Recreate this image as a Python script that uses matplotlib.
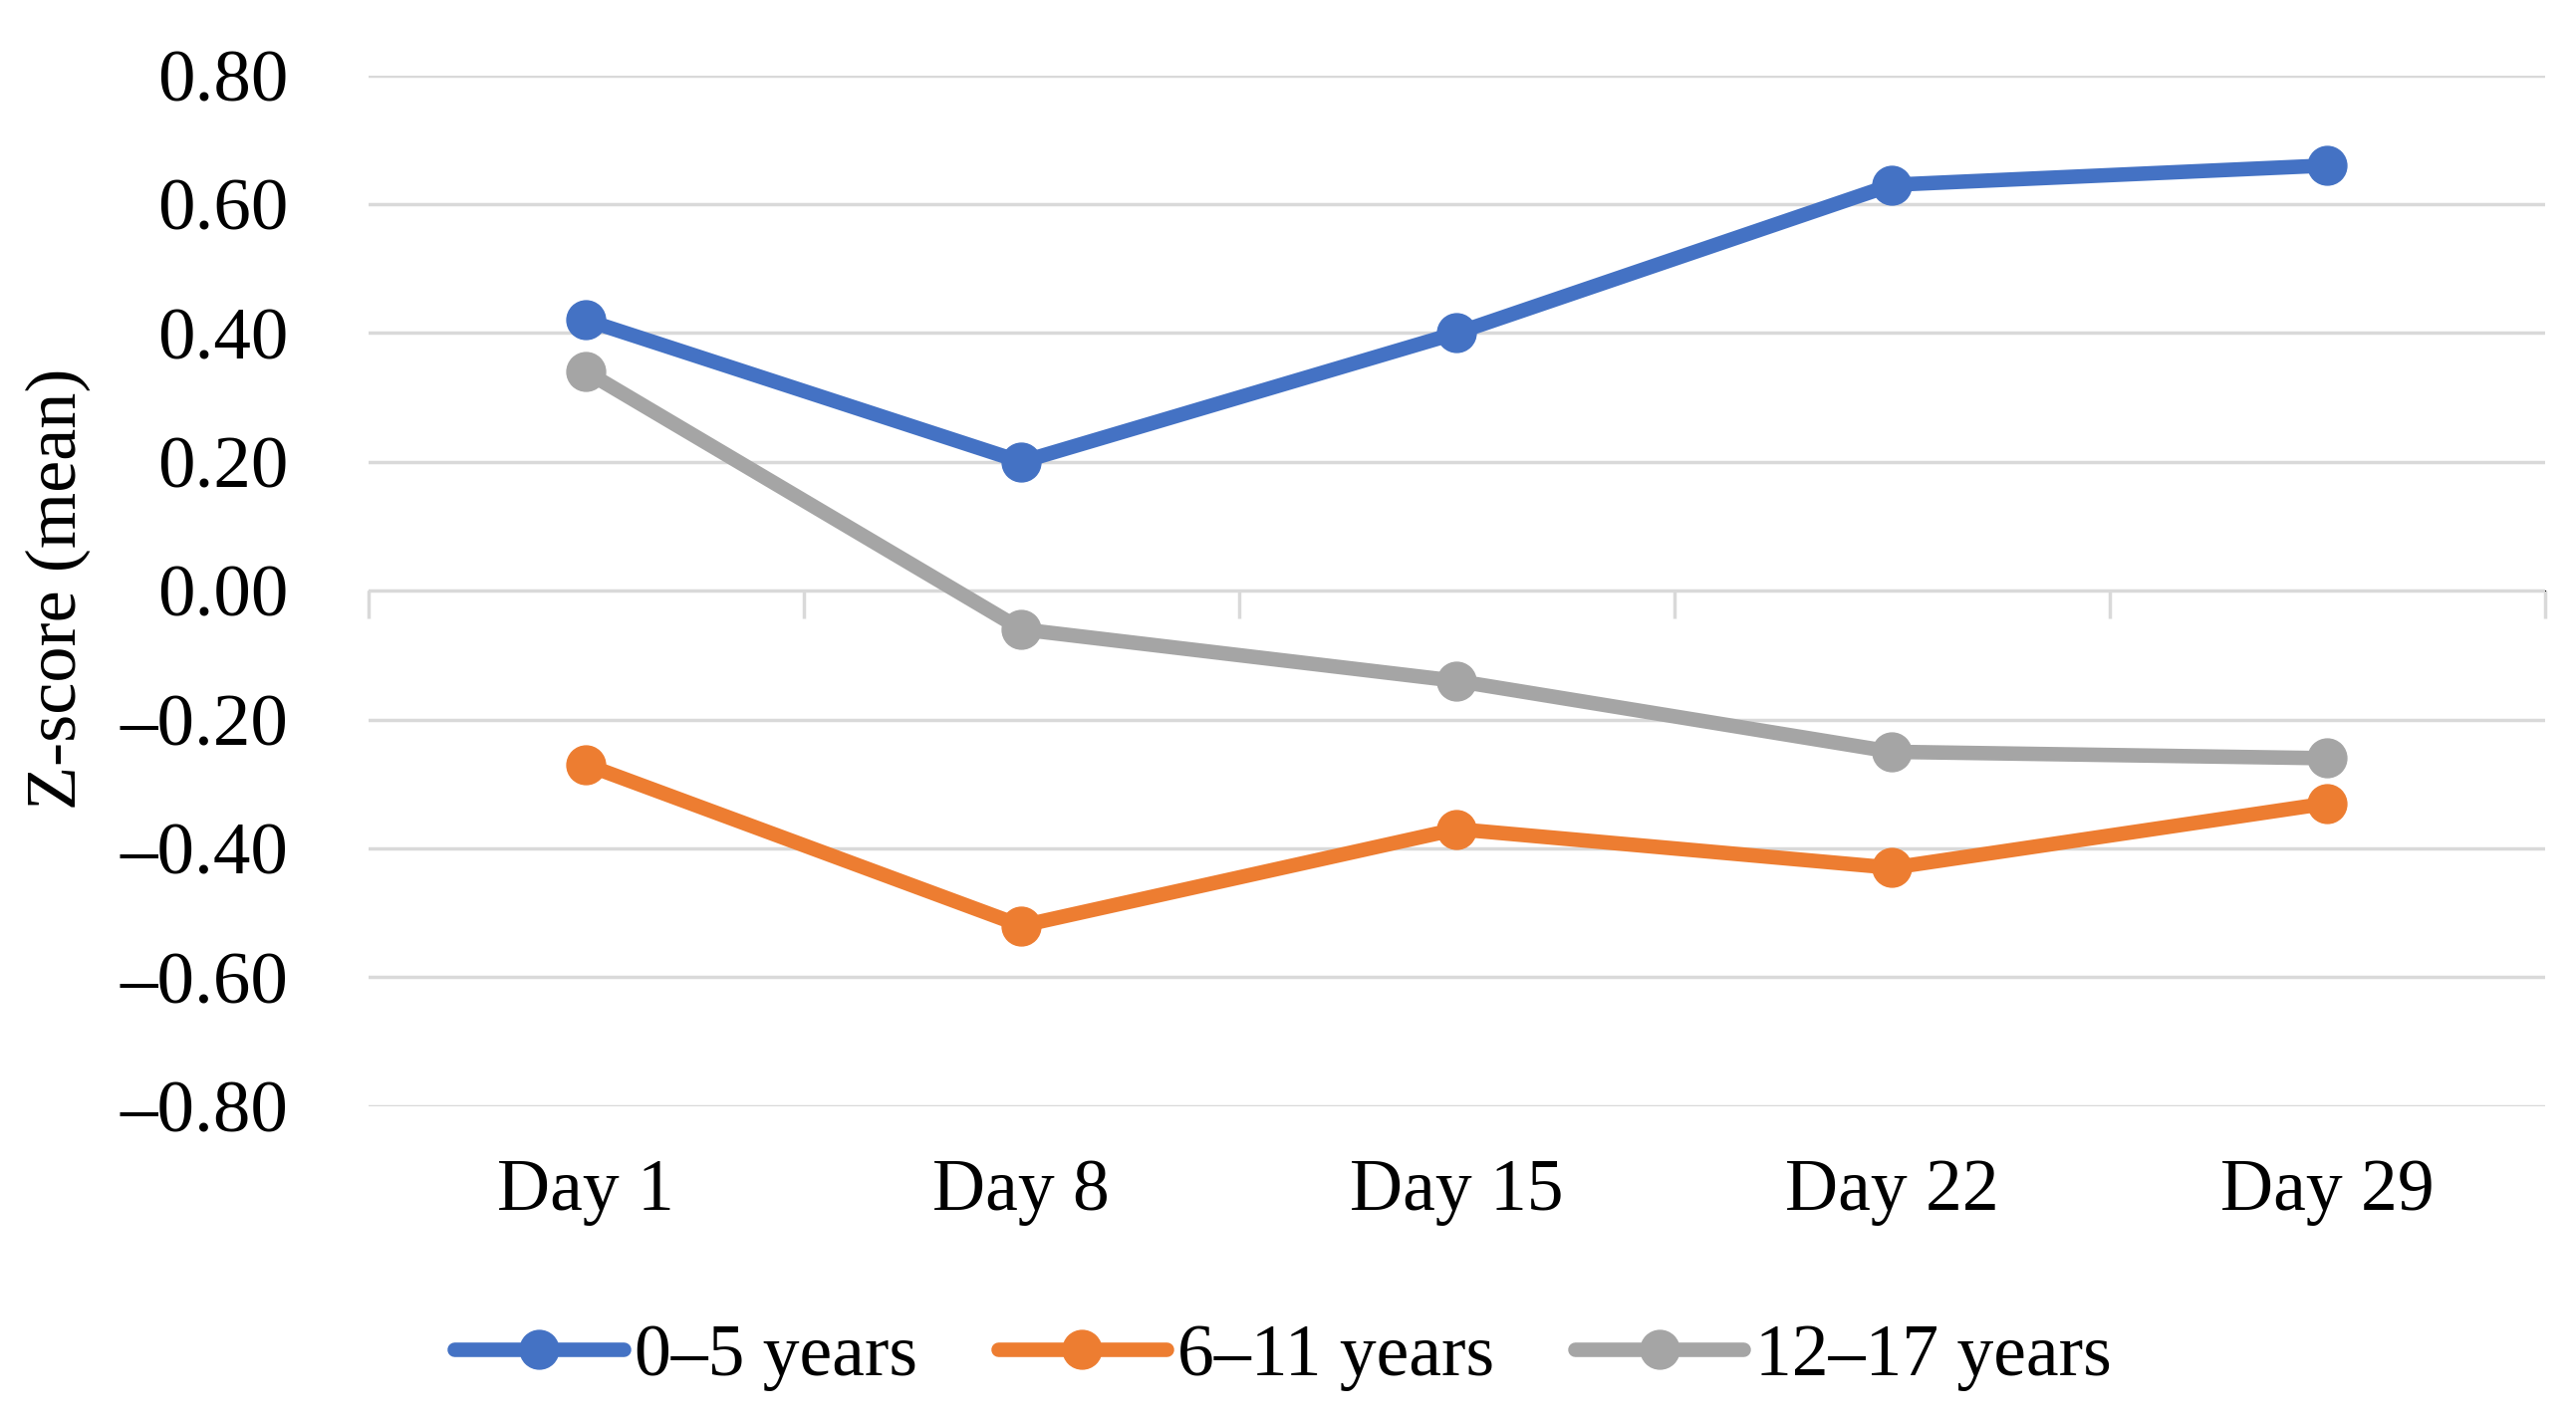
import matplotlib
matplotlib.use("Agg")
import matplotlib.pyplot as plt
from matplotlib.ticker import FuncFormatter

days = ["Day 1", "Day 8", "Day 15", "Day 22", "Day 29"]
age_0_5 = [0.42, 0.20, 0.40, 0.63, 0.66]
age_6_11 = [-0.27, -0.52, -0.37, -0.43, -0.33]
age_12_17 = [0.34, -0.06, -0.14, -0.25, -0.26]
labels = ["0\u20135 years", "6\u201311 years", "12\u201317 years"]
colors = ["#4472c4", "#ed7d31", "#a5a5a5"]

plt.rcParams['font.family'] = ['Liberation Serif', 'DejaVu Serif']

fig = plt.figure(figsize=(25.86, 14.26), dpi=100)
ax = fig.add_axes([0.143, 0.221, 0.845, 0.726])

x = list(range(len(days)))
for vals, lab, col in zip([age_0_5, age_6_11, age_12_17], labels, colors):
    ax.plot(x, vals, color=col, lw=10.5, marker='o', ms=28, label=lab,
            solid_capstyle='round', zorder=3)

ax.set_xlim(-0.5, 4.5)
ax.set_ylim(-0.8, 0.8)
ax.set_yticks([-0.8, -0.6, -0.4, -0.2, 0.0, 0.2, 0.4, 0.6, 0.8])
ax.yaxis.set_major_formatter(FuncFormatter(lambda v, p: f"{v:.2f}".replace("-", "\u2013")))
ax.grid(axis='y', color='#d9d9d9', lw=2.5, zorder=0)
ax.set_axisbelow(True)
ax.tick_params(axis='y', length=0, pad=58, labelsize=54)
ax.set_xticks(x)
ax.set_xticklabels(days)
ax.tick_params(axis='x', length=0, pad=38, labelsize=53)
for s in ax.spines.values():
    s.set_visible(False)

# zero line with category separators
sec = ax.secondary_xaxis(0.5)
sec.set_xticks([-0.5, 0.5, 1.5, 2.5, 3.5, 4.5])
sec.set_xticklabels([])
sec.tick_params(axis='x', direction='in', length=20, width=2.5, color='#d9d9d9')
sec.spines['bottom'].set_color('#d9d9d9')
sec.spines['bottom'].set_linewidth(2.5)

fig.text(0.0224, 0.585, "Z-score (mean)", rotation=90, ha='center', va='center', fontsize=52)

fig.legend(loc='center', bbox_to_anchor=(0.498, 0.044), ncol=3, frameon=False,
           fontsize=53, handlelength=2.3, handletextpad=0.15, columnspacing=1.1)

fig.savefig("out.png", dpi=100, facecolor='white')
